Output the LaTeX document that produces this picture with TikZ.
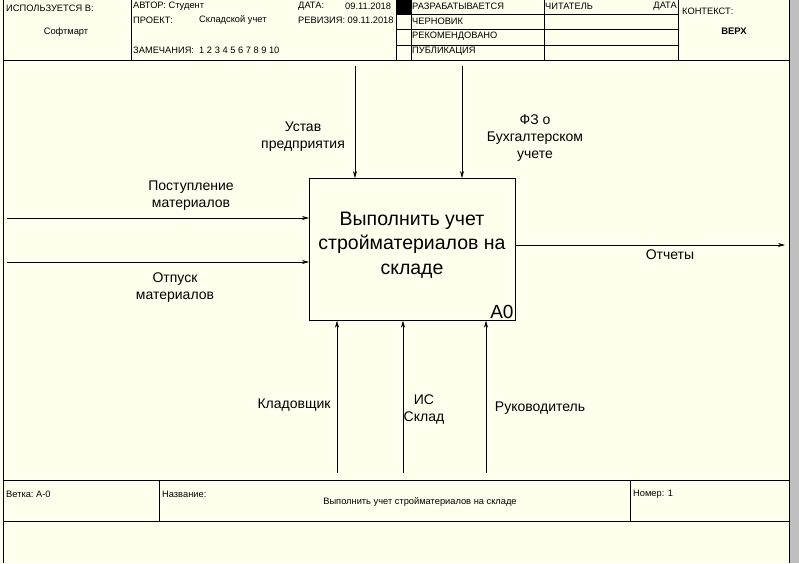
\documentclass[tikz,border=0pt]{standalone}
\usepackage{fontspec}
\setmainfont{Liberation Sans}
\usetikzlibrary{arrows.meta}
\definecolor{bg}{RGB}{255,255,238}
\begin{document}
\begin{tikzpicture}[x=1pt,y=-1pt,
  lab/.style={font=\fontsize{14}{17}\selectfont,align=center},
  hd/.style={font=\fontsize{9.3}{10}\selectfont,anchor=west,inner sep=1pt},
  arr/.style={-{Stealth[length=7pt,width=4pt]},line width=0.6pt}]
\useasboundingbox (0,0) rectangle (799,563);
\fill[bg] (0,0) rectangle (799,563);
\fill[gray!50] (790,0) rectangle (799,563);
\draw[line width=0.8pt] (3,0) -- (3,563);
\draw[line width=0.8pt] (789,0) -- (789,563);
% header
\draw[line width=0.8pt] (3,60) -- (789,60);
\draw (131,0) -- (131,60) (396,0) -- (396,60) (411,0) -- (411,60) (544,0) -- (544,60) (678,0) -- (678,60);
\draw (396,14) -- (678,14) (396,29) -- (678,29) (396,45) -- (678,45);
\fill (396,0) rectangle (411,14);
\node[hd] (h1) at (5,8) {ИСПОЛЬЗУЕТСЯ В:};
\node[font=\fontsize{9.3}{10}\selectfont] (h2) at (66,32) {Софтмарт};
\node[hd] (h3) at (132,6) {АВТОР: Студент};
\node[hd] (h4) at (297,6) {ДАТА:};
\node[hd] (h5) at (344,6) {09.11.2018};
\node[hd] (h6) at (132,20) {ПРОЕКТ:};
\node[hd] (h7) at (198,20) {Складской учет};
\node[hd] (h8) at (297,20) {РЕВИЗИЯ: 09.11.2018};
\node[hd] (h9) at (132,50) {ЗАМЕЧАНИЯ:\ \ 1\ 2\ 3\ 4\ 5\ 6\ 7\ 8\ 9\ 10};
\node[hd] (r1) at (411,6) {РАЗРАБАТЫВАЕТСЯ};
\node[hd] (r2) at (411,21) {ЧЕРНОВИК};
\node[hd] (r3) at (411,36) {РЕКОМЕНДОВАНО};
\node[hd] (r4) at (411,51) {ПУБЛИКАЦИЯ};
\node[hd] (r5) at (544,6) {ЧИТАТЕЛЬ};
\node[hd,anchor=east] (r6) at (678,6) {ДАТА};
\node[hd] (r7) at (681,11) {КОНТЕКСТ:};
\node[font=\fontsize{9.5}{10}\selectfont\bfseries] (r8) at (734,31) {ВЕРХ};
% footer
\draw[line width=0.8pt] (3,480) -- (789,480) (3,521) -- (789,521);
\draw (159,480) -- (159,521) (630,480) -- (630,521);
\node[hd] (f1) at (5,494) {Ветка:\ A-0};
\node[hd] (f2) at (161,494) {Название:};
\node[font=\fontsize{9.3}{10}\selectfont] (f3) at (420,502) {Выполнить учет стройматериалов на складе};
\node[hd] (f4) at (632,494) {Номер: 1};
% box
\node[draw,line width=0.7pt,minimum width=206pt,minimum height=142pt,inner sep=0,anchor=north west] (A) at (309,178) {};
\node[font=\fontsize{19.5}{24.5}\selectfont,align=center] (At) at (412,245) {Выполнить учет\\стройматериалов на\\складе};
\node[font=\fontsize{19}{20}\selectfont,anchor=south east,inner sep=2pt] (A0) at (A.south east) {A0};
% coordinates
\coordinate (i1) at (7,218); \coordinate (i2) at (7,262);
\coordinate (o1) at (785,245);
\coordinate (c1) at (355,66); \coordinate (c2) at (462,66);
\coordinate (m1) at (337,473); \coordinate (m2) at (403,473); \coordinate (m3) at (486,473);
\draw[arr] (i1) -- (A.west |- i1);
\draw[arr] (i2) -- (A.west |- i2);
\draw[arr] (A.east |- o1) -- (o1);
\draw[arr] (c1) -- (c1 |- A.north);
\draw[arr] (c2) -- (c2 |- A.north);
\draw[arr] (m1) -- (m1 |- A.south);
\draw[arr] (m2) -- (m2 |- A.south);
\draw[arr] (m3) -- (m3 |- A.south);
% labels
\node[lab] (l1) at (303,137) {Устав\\предприятия};
\node[lab] (l2) at (535,138) {ФЗ о\\Бухгалтерском\\учете};
\node[lab] (l3) at (191,196) {Поступление\\материалов};
\node[lab] (l4) at (175,288) {Отпуск\\материалов};
\node[lab] (l5) at (670,255) {Отчеты};
\node[lab] (l6) at (294,405) {Кладовщик};
\node[lab] (l7) at (424,409) {ИС\\Склад};
\node[lab] (l8) at (540,408) {Руководитель};
\end{tikzpicture}
\end{document}
